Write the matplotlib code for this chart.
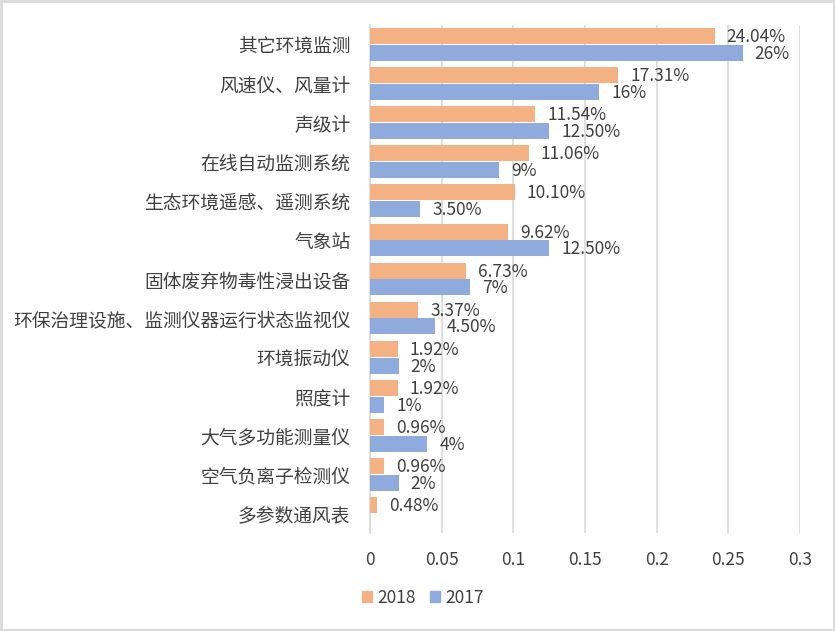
import matplotlib
matplotlib.use("Agg")
import matplotlib.pyplot as plt
from matplotlib.patches import Rectangle, Patch
from matplotlib.transforms import offset_copy
import numpy as np

plt.rcParams['font.family'] = ['Noto Sans CJK SC', 'DejaVu Sans']

categories = ["其它环境监测", "风速仪、风量计", "声级计", "在线自动监测系统",
              "生态环境遥感、遥测系统", "气象站", "固体废弃物毒性浸出设备",
              "环保治理设施、监测仪器运行状态监视仪", "环境振动仪", "照度计",
              "大气多功能测量仪", "空气负离子检测仪", "多参数通风表"]
v2018 = [0.2404, 0.1731, 0.1154, 0.1106, 0.1010, 0.0962, 0.0673, 0.0337,
         0.0192, 0.0192, 0.0096, 0.0096, 0.0048]
v2017 = [0.26, 0.16, 0.125, 0.09, 0.035, 0.125, 0.07, 0.045,
         0.02, 0.01, 0.04, 0.02, None]
l2018 = ["24.04%", "17.31%", "11.54%", "11.06%", "10.10%", "9.62%", "6.73%",
         "3.37%", "1.92%", "1.92%", "0.96%", "0.96%", "0.48%"]
l2017 = ["26%", "16%", "12.50%", "9%", "3.50%", "12.50%", "7%",
         "4.50%", "2%", "1%", "4%", "2%", ""]
xticks = [0, 0.05, 0.1, 0.15, 0.2, 0.25, 0.3]
xticklabels = ["0", "0.05", "0.1", "0.15", "0.2", "0.25", "0.3"]

c18 = "#F4B183"
c17 = "#8FAADC"
tc = "#404040"

W, H = 835, 631
fig = plt.figure(figsize=(W/100, H/100), dpi=100)
ax = fig.add_axes([370/W, 1-533/H, (800-370)/W, (533-25)/H])

n = len(categories)
y = np.arange(n)
bh = 0.41
ax.barh(y - bh/2 - 0.01, v2018, height=bh, color=c18, zorder=3)
v17 = [v if v is not None else 0 for v in v2017]
ax.barh(y + bh/2 + 0.01, v17, height=bh, color=c17, zorder=3)

ax.set_ylim(n - 0.5, -0.5)
ax.set_xlim(0, 0.3)
ax.set_xticks(xticks)
ax.set_xticklabels(xticklabels, fontsize=12.5, color=tc)
ax.set_yticks(y)
ax.set_yticklabels(categories, fontsize=13.5, color=tc)
ax.tick_params(axis='both', length=0)
ax.tick_params(axis='y', pad=14)
ax.tick_params(axis='x', pad=13)
ax.grid(axis='x', color="#D9D9D9", linewidth=1.2, zorder=0)
for s in ['top', 'right', 'bottom']:
    ax.spines[s].set_visible(False)
ax.spines['left'].set_color("#D9D9D9")
ax.spines['left'].set_linewidth(1.2)

tr = offset_copy(ax.transData, fig=fig, x=12, y=-1, units='dots')
for i in range(n):
    ax.text(v2018[i], y[i] - bh/2 - 0.01, l2018[i], transform=tr, va='center',
            ha='left', fontsize=12.5, color=tc, zorder=4)
    if v2017[i] is not None:
        ax.text(v2017[i], y[i] + bh/2 + 0.01, l2017[i], transform=tr, va='center',
                ha='left', fontsize=12.5, color=tc, zorder=4)

handles = [Patch(color=c18, label="2018"), Patch(color=c17, label="2017")]
leg = fig.legend(handles=handles, loc='center left', bbox_to_anchor=(362/W, 1-598/H),
                 ncol=2, frameon=False, fontsize=12.5, handlelength=0.6,
                 handleheight=0.6, handletextpad=0.3, columnspacing=0.8,
                 borderpad=0, borderaxespad=0)
for t in leg.get_texts():
    t.set_color(tc)

fig.patches.append(Rectangle((1/W, 1/H), 1-2/W, 1-2/H, transform=fig.transFigure,
                             fill=False, edgecolor="#D9D9D9", linewidth=2))

fig.savefig("out.png", dpi=100, facecolor="white")
